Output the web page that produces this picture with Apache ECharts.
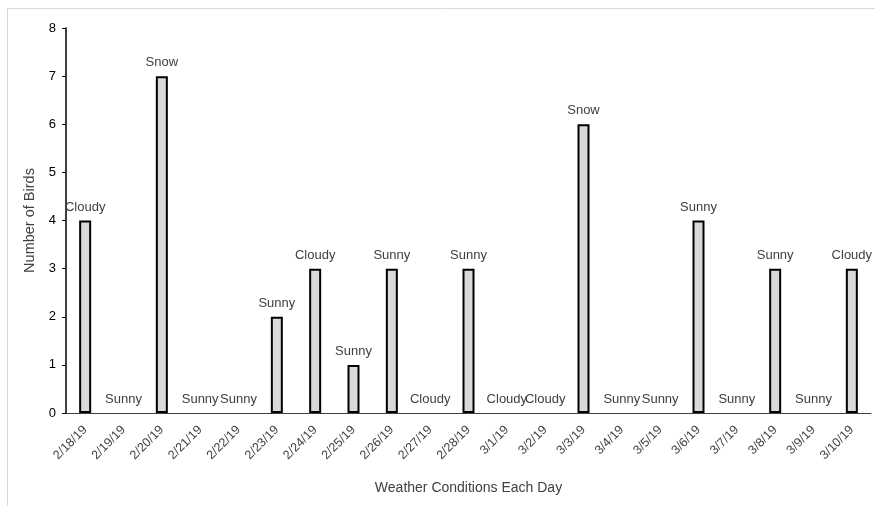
<!DOCTYPE html>
<html>
<head>
<meta charset="utf-8">
<script src="https://cdn.jsdelivr.net/npm/echarts@6/dist/echarts.min.js"></script>
<style>
  html, body { margin: 0; padding: 0; background: #fff; }
  #chart { width: 875px; height: 506px; }
</style>
</head>
<body>
<div id="chart"></div>
<script>
// Daily bird counts with the weather noted above each day
const days = ['2/18/19','2/19/19','2/20/19','2/21/19','2/22/19','2/23/19','2/24/19','2/25/19','2/26/19','2/27/19','2/28/19','3/1/19','3/2/19','3/3/19','3/4/19','3/5/19','3/6/19','3/7/19','3/8/19','3/9/19','3/10/19'];
const birdCounts = [4,0,7,0,0,2,3,1,3,0,3,0,0,6,0,0,4,0,3,0,3];
const weather = ['Cloudy','Sunny','Snow','Sunny','Sunny','Sunny','Cloudy','Sunny','Sunny','Cloudy','Sunny','Cloudy','Cloudy','Snow','Sunny','Sunny','Sunny','Sunny','Sunny','Sunny','Cloudy'];
const yTicks = [0,1,2,3,4,5,6,7,8];

const font = 'Liberation Sans';
const chart = echarts.init(document.getElementById('chart'));
chart.setOption({
  animation: false,
  backgroundColor: '#fff',
  graphic: [{
    type: 'rect',
    shape: { x: 7.5, y: 8.5, width: 900, height: 600 },
    style: { fill: 'none', stroke: '#d9d9d9', lineWidth: 1 },
    silent: true
  }],
  grid: { left: 66, right: 4, top: 28, bottom: 93 },
  xAxis: {
    type: 'category',
    data: days,
    name: 'Weather Conditions Each Day',
    nameLocation: 'middle',
    nameGap: 68,
    nameTextStyle: { fontFamily: font, fontSize: 14, color: '#404040' },
    axisLine: { lineStyle: { color: '#404040', width: 1 } },
    axisTick: { show: false },
    axisLabel: { rotate: 45, fontFamily: font, fontSize: 12.5, color: '#404040', margin: 15 }
  },
  yAxis: {
    type: 'value',
    min: yTicks[0],
    max: yTicks[yTicks.length - 1],
    interval: 1,
    name: 'Number of Birds',
    nameLocation: 'middle',
    nameGap: 23,
    nameTextStyle: { fontFamily: font, fontSize: 14.5, color: '#404040' },
    axisLine: { show: true, lineStyle: { color: '#000', width: 1.5 } },
    axisTick: { show: true, length: 4, lineStyle: { color: '#000' } },
    splitLine: { show: false },
    axisLabel: { fontFamily: font, fontSize: 13, color: '#000', margin: 10 }
  },
  series: [{
    type: 'bar',
    data: birdCounts.map(v => ({
      value: v,
      // zero-height days carry only their weather label, no outline
      itemStyle: v === 0 ? { borderWidth: 0, color: 'transparent' } : undefined
    })),
    barWidth: 12,
    itemStyle: { color: '#d9d9d9', borderColor: '#000', borderWidth: 2 },
    label: {
      show: true,
      position: 'top',
      distance: 7,
      fontFamily: font,
      fontSize: 13,
      color: '#404040',
      formatter: p => weather[p.dataIndex]
    }
  }]
});
</script>
</body>
</html>
